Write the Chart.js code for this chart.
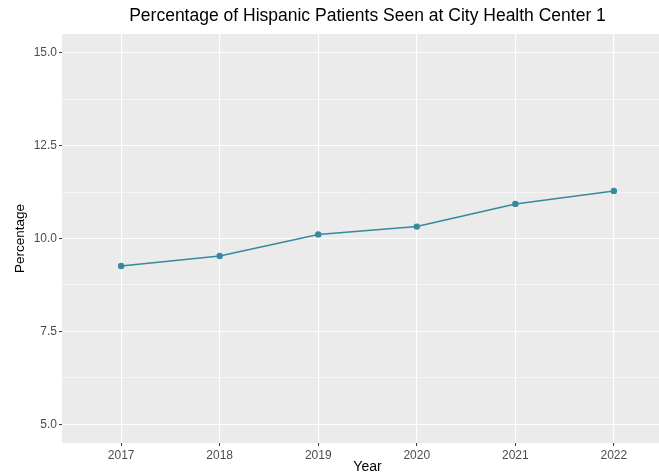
<!DOCTYPE html>
<html>
<head>
<meta charset="utf-8">
<script src="https://cdn.jsdelivr.net/npm/chart.js@4/dist/chart.umd.min.js"></script>
<style>
  html, body { margin: 0; padding: 0; background: #fff; overflow: hidden; }
  #wrap { width: 680px; height: 476px; position: relative; }
</style>
</head>
<body>
<div id="wrap"><canvas id="chart"></canvas></div>
<script>
// data
const years = [2017, 2018, 2019, 2020, 2021, 2022];
const percentages = [9.26, 9.53, 10.11, 10.32, 10.93, 11.28];
const yMajorTicks = [5, 7.5, 10, 12.5, 15];
const yMinorTicks = [6.25, 8.75, 11.25, 13.75];

const FONT = "'Liberation Sans', Arial, sans-serif";
const LINE = '#358a9e';

// grey ggplot panel
const panelBg = {
  id: 'panelBg',
  beforeDraw(chart) {
    const { ctx, chartArea: a } = chart;
    ctx.save();
    ctx.fillStyle = '#ffffff';
    ctx.fillRect(0, 0, chart.width, chart.height);
    ctx.fillStyle = '#ebebeb';
    ctx.fillRect(a.left, a.top, a.right - a.left, a.bottom - a.top);
    ctx.restore();
  }
};

const isMajor = v => yMajorTicks.includes(v);

new Chart(document.getElementById('chart'), {
  type: 'line',
  data: {
    datasets: [{
      label: 'Percentage',
      data: years.map((y, i) => ({ x: y, y: percentages[i] })),
      borderColor: LINE,
      backgroundColor: LINE,
      borderWidth: 1.5,
      pointRadius: 3.2,
      pointBorderWidth: 0,
      pointBackgroundColor: LINE,
      tension: 0,
      fill: false
    }]
  },
  options: {
    responsive: true,
    maintainAspectRatio: false,
    animation: false,
    layout: { padding: { left: 0, right: 7, top: 0, bottom: 0 } },
    plugins: {
      legend: { display: false },
      tooltip: { enabled: false },
      title: {
        display: true,
        text: 'Percentage of Hispanic Patients Seen at City Health Center 1',
        fullSize: false,
        color: '#000000',
        font: { family: FONT, size: 17.5, weight: 'normal' },
        padding: { top: 5.5, bottom: 7.5 }
      }
    },
    scales: {
      x: {
        type: 'linear',
        min: 2016.4,
        max: 2022.6,
        afterBuildTicks(scale) { scale.ticks = years.map(v => ({ value: v })); },
        afterFit(scale) { scale.height = 33; },
        border: { display: false },
        grid: {
          color: '#ffffff',
          lineWidth: 1.1,
          tickColor: '#333333',
          tickWidth: 1,
          tickLength: 3
        },
        ticks: {
          color: '#4d4d4d',
          font: { family: FONT, size: 12 },
          padding: 2,
          maxRotation: 0,
          callback: v => String(v)
        },
        title: {
          display: true,
          text: 'Year',
          color: '#000000',
          font: { family: FONT, size: 14 },
          padding: { top: 0, bottom: 0 }
        }
      },
      y: {
        min: 4.5,
        max: 15.5,
        afterBuildTicks(scale) {
          scale.ticks = yMajorTicks.concat(yMinorTicks).sort((a, b) => a - b).map(v => ({ value: v }));
        },
        afterFit(scale) { scale.width = 62; },
        border: { display: false },
        grid: {
          color: '#ffffff',
          lineWidth: c => isMajor(c.tick.value) ? 1.1 : 0.55,
          tickColor: c => isMajor(c.tick.value) ? '#333333' : 'rgba(0,0,0,0)',
          tickWidth: 1,
          tickLength: 3
        },
        ticks: {
          color: '#4d4d4d',
          font: { family: FONT, size: 12 },
          padding: 2,
          callback: v => isMajor(v) ? v.toFixed(1) : ''
        },
        title: {
          display: true,
          text: 'Percentage',
          color: '#000000',
          font: { family: FONT, size: 13.5 },
          padding: { top: 11.9, bottom: 0 }
        }
      }
    }
  },
  plugins: [panelBg]
});
</script>
</body>
</html>
